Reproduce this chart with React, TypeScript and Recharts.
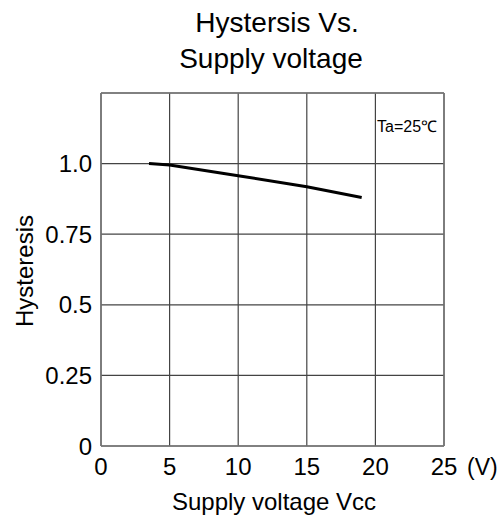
import { CartesianGrid, Line, LineChart, ReferenceLine, XAxis, YAxis } from 'recharts'

const voltage = [3.5, 5, 10, 15, 19]
const hysteresis = [1.0, 0.995, 0.957, 0.918, 0.88]
const xTicks = [0, 5, 10, 15, 20, 25]
const yTicks = [0, 0.25, 0.5, 0.75, 1.0, 1.25]
const yTickLabels = ['0', '0.25', '0.5', '0.75', '1.0', '']

const data = voltage.map((v, i) => ({ v, h: hysteresis[i] }))

const font = '"Liberation Sans", Arial, sans-serif'

export default function App() {
  return (
    <div style={{ position: 'absolute', left: 0, top: 0, width: 504, height: 517, fontFamily: font, background: '#fff' }}>
      <LineChart width={504} height={517} data={data} margin={{ top: 93, right: 60, left: 0, bottom: 0 }}>
        <CartesianGrid stroke="#444" strokeWidth={1.2} horizontalValues={yTicks} verticalValues={xTicks} />
        <XAxis
          dataKey="v"
          type="number"
          domain={[0, 25]}
          ticks={xTicks}
          height={71}
          axisLine={{ stroke: '#777', strokeWidth: 1.5 }}
          tickLine={false}
          tickSize={0}
          tickMargin={12}
          tick={{ fill: '#000', fontSize: 24, fontFamily: font }}
        />
        <YAxis
          type="number"
          domain={[0, 1.25]}
          ticks={yTicks}
          width={101}
          axisLine={{ stroke: '#777', strokeWidth: 1.5 }}
          tickLine={false}
          tickSize={0}
          tickMargin={9}
          tickFormatter={(_v, i) => yTickLabels[i]}
          tick={{ fill: '#000', fontSize: 24, fontFamily: font }}
        />
        <ReferenceLine y={1.25} stroke="#777" strokeWidth={1.5} />
        <ReferenceLine x={25} stroke="#777" strokeWidth={1.5} />
        <Line dataKey="h" stroke="#000" strokeWidth={3} dot={false} isAnimationActive={false} type="linear" />
      </LineChart>
      {/* text overlay */}
      <svg width={504} height={517} style={{ position: 'absolute', left: 0, top: 0, pointerEvents: 'none' }} fontFamily={font} fill="#000">
        <text x={277} y={32} fontSize={28} textAnchor="middle">Hystersis Vs.</text>
        <text x={271} y={68} fontSize={28} textAnchor="middle">Supply voltage</text>
        <text x={377} y={132} fontSize={16}>Ta=25℃</text>
        <text x={467} y={475} fontSize={23}>(V)</text>
        <text x={274} y={510} fontSize={24} textAnchor="middle">Supply voltage Vcc</text>
        <text x={33} y={271} fontSize={24} textAnchor="middle" transform="rotate(-90 33 271)">Hysteresis</text>
      </svg>
    </div>
  )
}
